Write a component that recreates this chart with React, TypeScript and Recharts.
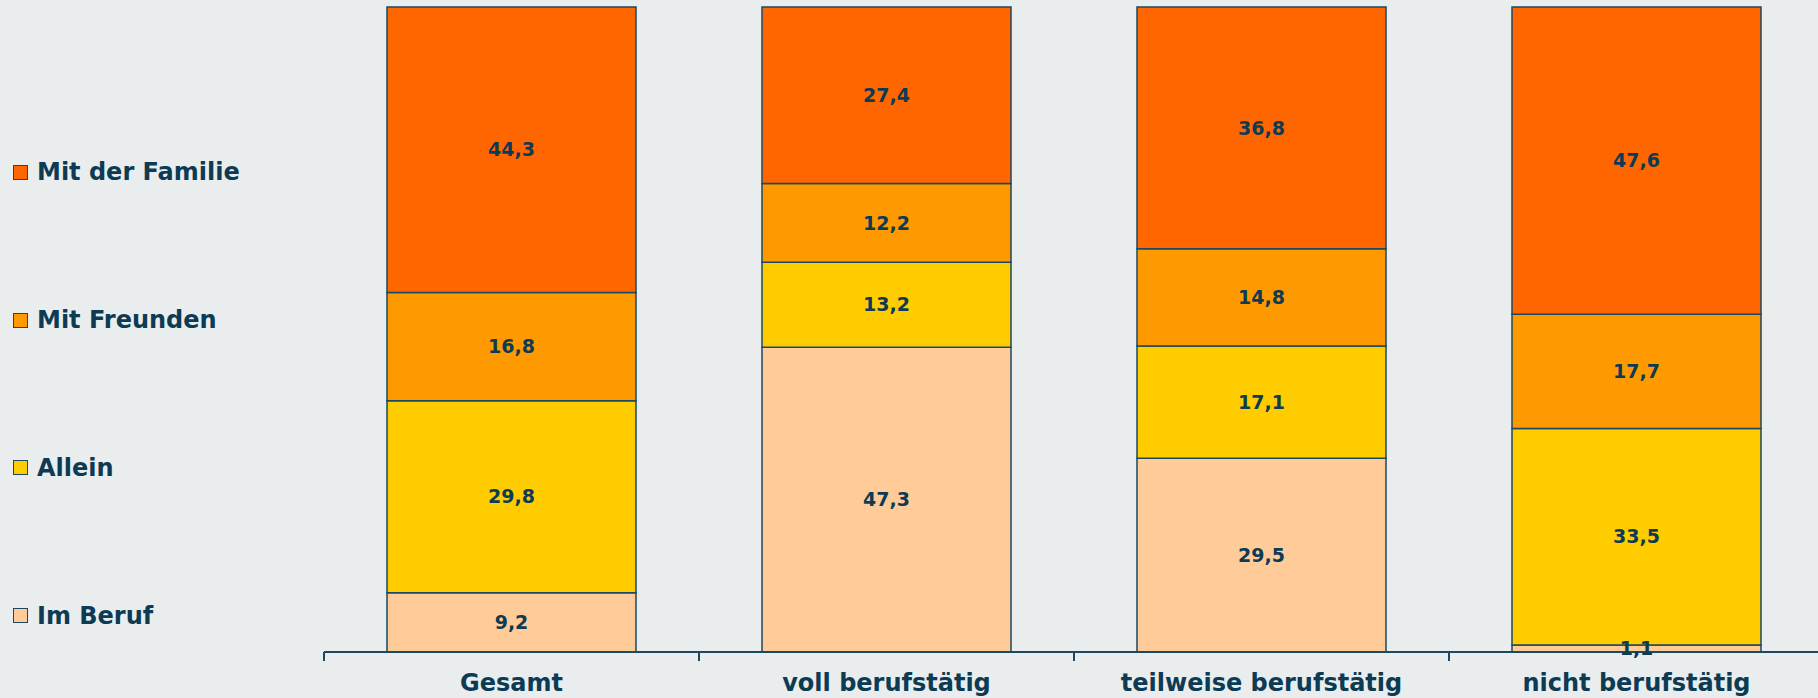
import React from "react";
import { BarChart, Bar, XAxis, YAxis, LabelList, Legend } from "recharts";

if (typeof document !== "undefined") {
  document.body.style.margin = "0";
}

const categories = ["Gesamt", "voll berufstätig", "teilweise berufstätig", "nicht berufstätig"];
const imBeruf = [9.2, 47.3, 29.5, 1.1];
const allein = [29.8, 13.2, 17.1, 33.5];
const mitFreunden = [16.8, 12.2, 14.8, 17.7];
const mitFamilie = [44.3, 27.4, 36.8, 47.6];

const data = categories.map((name, i) => ({
  name,
  beruf: imBeruf[i],
  allein: allein[i],
  freunde: mitFreunden[i],
  familie: mitFamilie[i],
}));

const NAVY = "#0C3B53";
const EDGE = "#1C4862";
const BG = "#E9EDEE";
const FONT = "'DejaVu Sans', Verdana, sans-serif";
const TICK_MARGIN = 22;
const TICK_LEN = 9;

const series = [
  { key: "beruf", name: "Im Beruf", color: "#FFCC99" },
  { key: "allein", name: "Allein", color: "#FFCC00" },
  { key: "freunde", name: "Mit Freunden", color: "#FF9900" },
  { key: "familie", name: "Mit der Familie", color: "#FF6600" },
];

const fmt = (v: any) => (typeof v === "number" ? v.toFixed(1).replace(".", ",") : v);

const renderLegend = () => {
  const items = series.slice().reverse();
  return (
    <div style={{ paddingTop: 98.6 }}>
      {items.map((p) => (
        <div
          key={p.key}
          style={{
            height: 147.7,
            display: "flex",
            alignItems: "center",
            fontFamily: FONT,
            fontWeight: "bold",
            fontSize: 24,
            color: NAVY,
          }}
        >
          <span
            style={{
              display: "inline-block",
              width: 13,
              height: 13,
              marginLeft: 13,
              marginRight: 9,
              background: p.color,
              border: `1.5px solid ${EDGE}`,
            }}
          />
          <span>{p.name}</span>
        </div>
      ))}
    </div>
  );
};

// Category tick: label at the band centre, tick marks at the band boundaries (Excel style)
const CategoryTick = (props: any) => {
  const { x, y, payload, width, visibleTicksCount, index } = props;
  const half = width / visibleTicksCount / 2;
  const axisY = y - TICK_MARGIN;
  const isLast = index === visibleTicksCount - 1;
  return (
    <g>
      <line x1={x - half} x2={x - half} y1={axisY} y2={axisY + TICK_LEN} stroke={EDGE} strokeWidth={2} />
      {isLast && (
        <line x1={x + half} x2={x + half} y1={axisY} y2={axisY + TICK_LEN} stroke={EDGE} strokeWidth={2} />
      )}
      <text
        x={x}
        y={y}
        dy="0.71em"
        textAnchor="middle"
        fill={NAVY}
        fontSize={24}
        fontWeight="bold"
        fontFamily={FONT}
      >
        {payload.value}
      </text>
    </g>
  );
};

export default function App() {
  return (
    <div
      style={{
        position: "relative",
        width: 1818,
        height: 698,
        overflow: "hidden",
        background: BG,
      }}
    >
      <BarChart
        width={1830}
        height={698}
        data={data}
        stackOffset="expand"
        margin={{ top: 7, right: 6, bottom: 0, left: 324 }}
        style={{ fontFamily: FONT }}
      >
        <XAxis
          dataKey="name"
          height={46}
          axisLine={{ stroke: EDGE, strokeWidth: 2 }}
          tickLine={false}
          tickSize={0}
          tickMargin={TICK_MARGIN}
          interval={0}
          tick={<CategoryTick />}
        />
        <YAxis hide type="number" domain={[0, 1]} />
        <Legend
          layout="vertical"
          align="center"
          verticalAlign="middle"
          content={renderLegend}
          wrapperStyle={{ left: 0, top: 0, width: 300, height: 698 }}
        />
        {series.map((s) => (
          <Bar
            key={s.key}
            dataKey={s.key}
            name={s.name}
            stackId="a"
            fill={s.color}
            stroke={EDGE}
            strokeWidth={1.5}
            barSize={249}
            isAnimationActive={false}
          >
            <LabelList
              dataKey={s.key}
              position="center"
              formatter={fmt}
              style={{ fill: NAVY, fontSize: 19, fontWeight: "bold", fontFamily: FONT }}
            />
          </Bar>
        ))}
      </BarChart>
    </div>
  );
}
